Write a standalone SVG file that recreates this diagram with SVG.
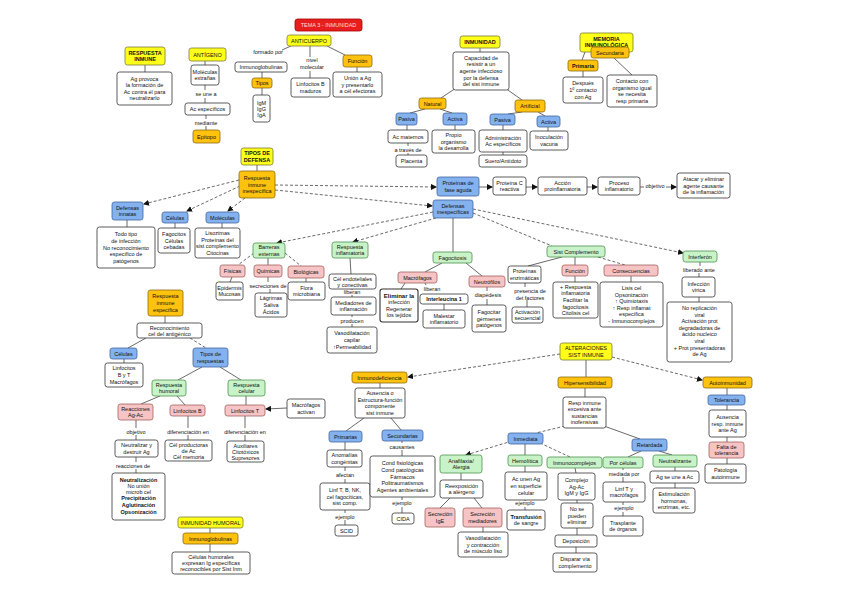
<svg xmlns="http://www.w3.org/2000/svg" width="848" height="599" viewBox="0 0 848 599">
<style>
text{font-family:"Liberation Sans",Arial,sans-serif;font-size:5.5px;text-anchor:middle;fill:#111}
rect{rx:2.5;ry:2.5;stroke-width:0.8}
.w{fill:#fff;stroke:#333}
.y{fill:#ffff1a;stroke:#7a7a3a}
.o{fill:#ffc20e;stroke:#8a6a10}
.b{fill:#84b2ef;stroke:#41669e}
.g{fill:#c8f3c8;stroke:#4f8f4f}
.p{fill:#f6c4c4;stroke:#a35f5f}
.r{fill:#e61e1e;stroke:#a00}
.bd{font-weight:bold}
.tr{fill:#ffdada}
.c{stroke:#444;stroke-width:0.8;fill:none}
.d{stroke-dasharray:3 2}
.a{marker-end:url(#ah)}
</style>
<defs>
<marker id="ah" markerWidth="6" markerHeight="6" refX="5" refY="3" orient="auto" markerUnits="userSpaceOnUse">
<path d="M0,0 L6,3 L0,6 z" fill="#111"/>
</marker>
</defs>
<rect x="0" y="0" width="848" height="599" fill="#fff" style="stroke:none"/>

<g id="connectors">
<!-- top -->
<path class="c" d="M291 46 L282 50"/>
<path class="c" d="M262 72 L262 78"/>
<path class="c" d="M262 88 L262 95"/>
<path class="c" d="M310 46 L310 57"/>
<path class="c" d="M310 71 L310 78"/>
<path class="c" d="M327 46 L345 55"/>
<path class="c" d="M357 67 L357 72"/>
<path class="c" d="M145 65 L145 72"/>
<path class="c" d="M205 61 L205 65"/>
<path class="c" d="M205 85 L205 90"/>
<path class="c" d="M205 98 L205 103"/>
<path class="c" d="M206 115 L206 119"/>
<path class="c" d="M206 126 L206 130"/>
<path class="c" d="M480 48 L480 52"/>
<path class="c" d="M456 88 L441 98"/>
<path class="c" d="M505 88 L522 100"/>
<path class="c" d="M425 109 L410 113"/>
<path class="c" d="M440 109 L452 113"/>
<path class="c" d="M407 125 L407 130"/>
<path class="c" d="M408 143 L408 146"/>
<path class="c" d="M408 153 L408 155"/>
<path class="c" d="M455 125 L455 130"/>
<path class="c" d="M522 112 L508 114"/>
<path class="c" d="M538 112 L545 116"/>
<path class="c" d="M503 125 L503 130"/>
<path class="c" d="M503 152 L503 155"/>
<path class="c" d="M548 127 L548 131"/>
<path class="c" d="M585 52 L582 60"/>
<path class="c" d="M583 71 L583 77"/>
<path class="c" d="M614 58 L632 75"/>
<!-- defensa -->
<path class="c" d="M257 165 L257 171"/>
<path class="c d a" d="M239 180 L144 204"/>
<path class="c d a" d="M240 186 L187 211"/>
<path class="c d a" d="M245 198 L228 211"/>
<path class="c d a" d="M275 185 L436 187"/>
<path class="c d a" d="M275 190 L432 206"/>
<path class="c a" d="M479 187 L492 187"/>
<path class="c a" d="M526 187 L537 187"/>
<path class="c a" d="M587 187 L597 187"/>
<path class="c" d="M640 187 L644 187"/>
<path class="c a" d="M666 187 L676 187"/>
<path class="c" d="M127 220 L127 227"/>
<path class="c" d="M175 223 L175 228"/>
<path class="c" d="M222 223 L222 228"/>
<path class="c d a" d="M433 212 L277 243"/>
<path class="c d a" d="M436 218 L353 242"/>
<path class="c" d="M453 218 L453 252"/>
<path class="c d" d="M473 213 L552 246"/>
<path class="c d a" d="M473 209 L683 253"/>
<path class="c" d="M442 263 L425 272"/>
<path class="c" d="M466 263 L482 276"/>
<path class="c" d="M405 283 L401 289"/>
<path class="c" d="M425 283 L426 285"/>
<path class="c" d="M444 304 L444 310"/>
<path class="c" d="M487 287 L487 291"/>
<path class="c" d="M487 299 L487 305"/>
<path class="c" d="M562 257 L528 266"/>
<path class="c" d="M575 257 L575 265"/>
<path class="c d" d="M598 257 L625 265"/>
<path class="c" d="M525 283 L525 287"/>
<path class="c" d="M527 300 L527 307"/>
<path class="c" d="M575 276 L575 282"/>
<path class="c" d="M631 276 L631 282"/>
<path class="c" d="M700 262 L700 266"/>
<path class="c" d="M699 273 L699 277"/>
<path class="c" d="M699 297 L699 302"/>
<path class="c d" d="M254 253 L238 265"/>
<path class="c" d="M268 258 L268 265"/>
<path class="c d" d="M285 253 L301 266"/>
<path class="c" d="M232 277 L230 282"/>
<path class="c" d="M268 277 L268 282"/>
<path class="c" d="M270 289 L270 293"/>
<path class="c" d="M306 278 L306 282"/>
<path class="c" d="M350 258 L351 274"/>
<path class="c" d="M352 289 L352 290"/>
<path class="c" d="M352 295 L352 297"/>
<path class="c" d="M352 315 L352 317"/>
<path class="c" d="M352 324 L352 327"/>
<!-- especifica -->
<path class="c" d="M165 316 L165 323"/>
<path class="c" d="M146 338 L128 348"/>
<path class="c d" d="M190 338 L206 348"/>
<path class="c" d="M124 359 L124 363"/>
<path class="c" d="M202 367 L178 380"/>
<path class="c" d="M220 367 L241 380"/>
<path class="c" d="M160 396 L141 404"/>
<path class="c" d="M177 396 L185 405"/>
<path class="c" d="M246 396 L246 405"/>
<path class="c a" d="M287 408 L266 409"/>
<path class="c" d="M136 420 L136 428"/>
<path class="c" d="M136 435 L136 440"/>
<path class="c" d="M136 457 L136 462"/>
<path class="c" d="M136 469 L136 473"/>
<path class="c" d="M188 416 L188 428"/>
<path class="c" d="M188 435 L188 440"/>
<path class="c" d="M245 416 L245 428"/>
<path class="c" d="M245 435 L245 441"/>
<path class="c" d="M210 528 L210 533"/>
<path class="c" d="M210 544 L210 552"/>
<!-- alteraciones -->
<path class="c d a" d="M560 354 L408 377"/>
<path class="c" d="M586 360 L586 377"/>
<path class="c d a" d="M612 357 L702 380"/>
<path class="c" d="M380 383 L380 388"/>
<path class="c" d="M364 418 L346 431"/>
<path class="c" d="M391 418 L401 430"/>
<path class="c" d="M345 442 L345 450"/>
<path class="c" d="M345 467 L345 471"/>
<path class="c" d="M345 479 L345 483"/>
<path class="c" d="M345 510 L345 513"/>
<path class="c" d="M345 520 L345 525"/>
<path class="c" d="M402 441 L402 443"/>
<path class="c" d="M402 450 L402 456"/>
<path class="c" d="M402 497 L402 500"/>
<path class="c" d="M402 507 L402 513"/>
<path class="c" d="M585 388 L585 397"/>
<path class="c d" d="M565 426 L536 433"/>
<path class="c" d="M604 426 L640 439"/>
<path class="c d a" d="M512 441 L466 455"/>
<path class="c" d="M525 444 L525 455"/>
<path class="c d" d="M540 443 L570 457"/>
<path class="c" d="M641 451 L628 457"/>
<path class="c" d="M659 451 L672 455"/>
<path class="c" d="M461 473 L461 480"/>
<path class="c" d="M450 498 L440 508"/>
<path class="c" d="M474 498 L482 508"/>
<path class="c" d="M483 527 L483 532"/>
<path class="c" d="M525 466 L525 472"/>
<path class="c" d="M525 500 L525 501"/>
<path class="c" d="M525 507 L525 510"/>
<path class="c" d="M575 468 L576 473"/>
<path class="c" d="M577 500 L577 503"/>
<path class="c" d="M577 528 L577 535"/>
<path class="c" d="M576 547 L576 553"/>
<path class="c" d="M623 468 L623 470"/>
<path class="c" d="M623 477 L623 482"/>
<path class="c" d="M623 502 L623 505"/>
<path class="c" d="M623 512 L623 516"/>
<path class="c" d="M675 467 L675 471"/>
<path class="c" d="M675 483 L675 488"/>
<path class="c" d="M727 388 L727 395"/>
<path class="c" d="M727 405 L727 410"/>
<path class="c" d="M727 437 L727 442"/>
<path class="c" d="M727 458 L727 464"/>
</g>

<g id="labels">
<text x="268" y="54">formado por</text>
<text x="312" y="62">nivel</text>
<text x="312" y="68.5">molecular</text>
<text x="206" y="96">se une a</text>
<text x="206" y="124.5">mediante</text>
<text x="408" y="151.5">a través de</text>
<text x="655" y="188">objetivo</text>
<text x="268" y="287.5">secreciones de</text>
<text x="352" y="294">liberan</text>
<text x="352" y="322.5">producen</text>
<text x="432" y="290.5">liberan</text>
<text x="488" y="297">diapédesis</text>
<text x="530" y="292.5">presencia de</text>
<text x="530" y="299.5">det factores</text>
<text x="699" y="271.5">liberado ante</text>
<text x="136" y="433.5">objetivo</text>
<text x="133" y="468">reacciones de</text>
<text x="188" y="433.5">diferenciación en</text>
<text x="245" y="433.5">diferenciación en</text>
<text x="345" y="477">afectan</text>
<text x="345" y="518.5">ejemplo</text>
<text x="402" y="448.5">causantes</text>
<text x="402" y="505">ejemplo</text>
<text x="525" y="505">ejemplo</text>
<text x="624" y="475.5">mediada por</text>
<text x="624" y="510">ejemplo</text>
</g>

<g id="n-tema"><rect class="r" x="295" y="19" width="67" height="12"/><text class="tr" x="328.5" y="27">TEMA 3 - INMUNIDAD</text></g>
<g id="n-anticuerpo"><rect class="y" x="287" y="35" width="44" height="11"/><text x="309" y="42.5">ANTICUERPO</text></g>
<g id="n-inmunoglobulinas"><rect class="w" x="235" y="62" width="52" height="10"/><text x="261" y="69">Inmunoglobulinas</text></g>
<g id="n-tipos"><rect class="o" x="252" y="78" width="20" height="10"/><text x="262" y="85">Tipos</text></g>
<g id="n-igm"><rect class="w" x="253" y="95" width="17" height="27"/><text x="261.5" y="104.5">IgM</text><text x="261.5" y="110.5">IgG</text><text x="261.5" y="116.5">IgA</text></g>
<g id="n-linfb-maduros"><rect class="w" x="291" y="78" width="39" height="19"/><text x="310.5" y="86.2">Linfocitos B</text><text x="310.5" y="92.8">maduros</text></g>
<g id="n-funcion"><rect class="o" x="343" y="55" width="29" height="12"/><text x="357.5" y="63">Función</text></g>
<g id="n-union"><rect class="w" x="333" y="72" width="49" height="25"/><text x="357.5" y="79.9">Unión a Ag</text><text x="357.5" y="86.5">y presentarlo</text><text x="357.5" y="93.1">a cél efectoras</text></g>
<g id="n-resp-inmune"><rect class="y" x="125" y="47" width="40" height="18"/><text class="bd" x="145" y="54.7">RESPUESTA</text><text class="bd" x="145" y="61.3">INMUNE</text></g>
<g id="n-ag-provoca"><rect class="w" x="117" y="72" width="55" height="33"/><text x="144.5" y="80.6">Ag provoca</text><text x="144.5" y="87.2">la formación de</text><text x="144.5" y="93.8">Ac contra él para</text><text x="144.5" y="100.4">neutralizarlo</text></g>
<g id="n-antigeno"><rect class="y" x="189" y="48" width="37" height="13"/><text x="207.5" y="56.5">ANTÍGENO</text></g>
<g id="n-moleculas-ext"><rect class="w" x="191" y="65" width="28" height="20"/><text x="205" y="73.7">Moléculas</text><text x="205" y="80.3">extrañas</text></g>
<g id="n-ac-esp"><rect class="w" x="185" y="103" width="45" height="12"/><text x="207.5" y="111">Ac específicos</text></g>
<g id="n-epitopo"><rect class="o" x="193" y="130" width="27" height="13"/><text x="206.5" y="138.5">Epítopo</text></g>
<g id="n-inmunidad"><rect class="y" x="460" y="36" width="40" height="12"/><text class="bd" x="480" y="44">INMUNIDAD</text></g>
<g id="n-capacidad"><rect class="w" x="453" y="52" width="56" height="38"/><text x="481" y="59.8">Capacidad de</text><text x="481" y="66.4">resistir a un</text><text x="481" y="73">agente infeccioso</text><text x="481" y="79.6">por la defensa</text><text x="481" y="86.2">del sist inmune</text></g>
<g id="n-natural"><rect class="o" x="419" y="98" width="27" height="11"/><text x="432.5" y="105.5">Natural</text></g>
<g id="n-artificial"><rect class="o" x="515" y="100" width="30" height="12"/><text x="530" y="108">Artificial</text></g>
<g id="n-pasiva-n"><rect class="b" x="396" y="113" width="21" height="12"/><text x="406.5" y="121">Pasiva</text></g>
<g id="n-activa-n"><rect class="b" x="443" y="113" width="24" height="12"/><text x="455" y="121">Activa</text></g>
<g id="n-ac-maternos"><rect class="w" x="388" y="130" width="40" height="13"/><text x="408" y="138.5">Ac maternos</text></g>
<g id="n-placenta"><rect class="w" x="396" y="155" width="31" height="12"/><text x="411.5" y="163">Placenta</text></g>
<g id="n-propio"><rect class="w" x="432" y="130" width="43" height="23"/><text x="453.5" y="136.9">Propio</text><text x="453.5" y="143.5">organismo</text><text x="453.5" y="150.1">la desarrolla</text></g>
<g id="n-pasiva-a"><rect class="b" x="490" y="114" width="25" height="11"/><text x="502.5" y="121.5">Pasiva</text></g>
<g id="n-activa-a"><rect class="b" x="537" y="116" width="23" height="11"/><text x="548.5" y="123.5">Activa</text></g>
<g id="n-administracion"><rect class="w" x="479" y="130" width="48" height="22"/><text x="503" y="139.7">Administración</text><text x="503" y="146.3">Ac específicos</text></g>
<g id="n-inoculacion"><rect class="w" x="530" y="131" width="38" height="19"/><text x="549" y="139.2">Inoculación</text><text x="549" y="145.8">vacuna</text></g>
<g id="n-suero"><rect class="w" x="479" y="155" width="48" height="12"/><text x="503" y="163">Suero/Antídoto</text></g>
<g id="n-memoria"><rect class="y" x="580" y="33" width="53" height="19"/><text class="bd" x="606.5" y="40.5">MEMORIA</text><text class="bd" x="606.5" y="46.5">INMUNOLÓGICA</text></g>
<g id="n-secundaria"><rect class="o" x="591" y="47" width="38" height="11"/><text x="610" y="54.5">Secundaria</text></g>
<g id="n-primaria"><rect class="o" x="568" y="60" width="30" height="11"/><text class="bd" x="583" y="67.5">Primaria</text></g>
<g id="n-despues"><rect class="w" x="563" y="77" width="40" height="26"/><text x="583" y="85.4">Después</text><text x="583" y="92">1º contacto</text><text x="583" y="98.6">con Ag</text></g>
<g id="n-contacto"><rect class="w" x="607" y="75" width="50" height="32"/><text x="632" y="83.1">Contacto con</text><text x="632" y="89.7">organismo igual</text><text x="632" y="96.3">se necesita</text><text x="632" y="102.9">resp primaria</text></g>

<g id="n-tipos-defensa"><rect class="y" x="241" y="148" width="32" height="17"/><text class="bd" x="257" y="155.2">TIPOS DE</text><text class="bd" x="257" y="161.8">DEFENSA</text></g>
<g id="n-resp-inesp"><rect class="o" x="239" y="171" width="36" height="27"/><text x="257" y="179.9">Respuesta</text><text x="257" y="186.5">inmune</text><text x="257" y="193.1">inespecífica</text></g>
<g id="n-prot-fase"><rect class="b" x="437" y="177" width="42" height="19"/><text x="458" y="185.2">Proteínas de</text><text x="458" y="191.8">fase aguda</text></g>
<g id="n-prot-c"><rect class="w" x="493" y="177" width="33" height="18"/><text x="509.5" y="184.7">Proteína C</text><text x="509.5" y="191.3">reactiva</text></g>
<g id="n-accion"><rect class="w" x="538" y="177" width="49" height="18"/><text x="562.5" y="184.7">Acción</text><text x="562.5" y="191.3">proinflamatoria</text></g>
<g id="n-proceso"><rect class="w" x="598" y="177" width="42" height="18"/><text x="619" y="184.7">Proceso</text><text x="619" y="191.3">inflamatorio</text></g>
<g id="n-atacar"><rect class="w" x="677" y="173" width="53" height="25"/><text x="703.5" y="180.9">Atacar y eliminar</text><text x="703.5" y="187.5">agente causante</text><text x="703.5" y="194.1">de la inflamación</text></g>

<g id="n-def-innatas"><rect class="b" x="112" y="202" width="31" height="18"/><text x="127.5" y="209.7">Defensas</text><text x="127.5" y="216.3">innatas</text></g>
<g id="n-celulas1"><rect class="b" x="162" y="212" width="26" height="11"/><text x="175" y="219.5">Células</text></g>
<g id="n-moleculas"><rect class="b" x="206" y="212" width="33" height="11"/><text x="222.5" y="219.5">Moléculas</text></g>
<g id="n-todo-tipo"><rect class="w" x="97" y="227" width="58" height="41"/><text x="126" y="236.3">Todo tipo</text><text x="126" y="242.9">de infección</text><text x="126" y="249.5">No reconocimiento</text><text x="126" y="256.1">específico de</text><text x="126" y="262.7">patógenos</text></g>
<g id="n-fagocitos"><rect class="w" x="158" y="228" width="32" height="25"/><text x="174" y="235.9">Fagocitos</text><text x="174" y="242.5">Células</text><text x="174" y="249.1">cebadas</text></g>
<g id="n-lisozimas"><rect class="w" x="195" y="228" width="45" height="30"/><text x="217.5" y="235.1">Lisozimas</text><text x="217.5" y="241.7">Proteínas del</text><text x="217.5" y="248.3">sist complemento</text><text x="217.5" y="254.9">Citocinas</text></g>

<g id="n-def-inesp"><rect class="b" x="433" y="200" width="40" height="18"/><text x="453" y="207.7">Defensas</text><text x="453" y="214.3">inespecíficas</text></g>
<g id="n-barreras"><rect class="g" x="253" y="243" width="32" height="15"/><text x="269" y="249.2">Barreras</text><text x="269" y="255.8">externas</text></g>
<g id="n-fisicas"><rect class="p" x="220" y="265" width="25" height="12"/><text x="232.5" y="273">Físicas</text></g>
<g id="n-quimicas"><rect class="p" x="254" y="265" width="28" height="12"/><text x="268" y="273">Químicas</text></g>
<g id="n-biologicas"><rect class="p" x="288" y="266" width="36" height="12"/><text x="306" y="274">Biológicas</text></g>
<g id="n-epidermis"><rect class="w" x="216" y="282" width="27" height="18"/><text x="229.5" y="289.7">Epidermis</text><text x="229.5" y="296.3">Mucosas</text></g>
<g id="n-lagrimas"><rect class="w" x="255" y="293" width="32" height="24"/><text x="271" y="300.4">Lágrimas</text><text x="271" y="307">Saliva</text><text x="271" y="313.6">Ácidos</text></g>
<g id="n-flora"><rect class="w" x="288" y="282" width="37" height="18"/><text x="306.5" y="289.7">Flora</text><text x="306.5" y="296.3">microbiana</text></g>
<g id="n-resp-infl"><rect class="g" x="332" y="242" width="36" height="16"/><text x="350" y="248.7">Respuesta</text><text x="350" y="255.3">inflamatoria</text></g>
<g id="n-cel-endo"><rect class="w" x="329" y="274" width="47" height="15"/><text x="352.5" y="280.5">Cél endoteliales</text><text x="352.5" y="286.5">y conectivas</text></g>
<g id="n-mediadores"><rect class="w" x="331" y="297" width="45" height="18"/><text x="353.5" y="304.7">Mediadores de</text><text x="353.5" y="311.3">inflamación</text></g>
<g id="n-vasodil"><rect class="w" x="327" y="327" width="50" height="26"/><text x="352" y="335.4">Vasodilatación</text><text x="352" y="342">capilar</text><text x="352" y="348.6">↑Permeabilidad</text></g>
<g id="n-fagocitosis"><rect class="g" x="433" y="252" width="39" height="11"/><text x="452.5" y="259.5">Fagocitosis</text></g>
<g id="n-macrofagos"><rect class="p" x="398" y="272" width="39" height="11"/><text x="417.5" y="279.5">Macrófagos</text></g>
<g id="n-eliminar"><rect class="w" x="380" y="289" width="38" height="33" style="stroke-width:1.1"/><text class="bd" x="399" y="297.6" style="font-size:6px">Eliminar la</text><text x="399" y="304.2">infección</text><text x="399" y="310.8">Regenerar</text><text x="399" y="317.4">los tejidos</text></g>
<g id="n-interleucina"><rect class="w" x="420" y="294" width="48" height="10"/><text class="bd" x="444" y="301">Interleucina 1</text></g>
<g id="n-malestar"><rect class="w" x="423" y="310" width="42" height="18"/><text x="444" y="317.7">Malestar</text><text x="444" y="324.3">inflamatorio</text></g>
<g id="n-neutrofilos"><rect class="p" x="469" y="276" width="36" height="11"/><text x="487" y="283.5">Neutrófilos</text></g>
<g id="n-fagocitar"><rect class="w" x="472" y="305" width="34" height="27"/><text x="489" y="313.9">Fagocitar</text><text x="489" y="320.5">gérmenes</text><text x="489" y="327.1">patógenos</text></g>
<g id="n-sist-comp"><rect class="g" x="547" y="246" width="58" height="11"/><text x="576" y="253.5">Sist Complemento</text></g>
<g id="n-prot-enz"><rect class="w" x="508" y="266" width="33" height="17"/><text x="524.5" y="273.2">Proteínas</text><text x="524.5" y="279.8">enzimáticas</text></g>
<g id="n-activacion"><rect class="w" x="512" y="307" width="31" height="16"/><text x="527.5" y="313.7">Activación</text><text x="527.5" y="320.3">secuencial</text></g>
<g id="n-funcion2"><rect class="p" x="562" y="265" width="26" height="11"/><text x="575" y="272.5">Función</text></g>
<g id="n-resp-funcion"><rect class="w" x="553" y="282" width="45" height="36"/><text x="575.5" y="288.8">+ Respuesta</text><text x="575.5" y="295.4">inflamatoria</text><text x="575.5" y="302">Facilitar la</text><text x="575.5" y="308.6">fagocitosis</text><text x="575.5" y="315.2">Citolisis cel</text></g>
<g id="n-consecuencias"><rect class="p" x="604" y="265" width="54" height="11"/><text x="631" y="272.5">Consecuencias</text></g>
<g id="n-lisis"><rect class="w" x="600" y="282" width="63" height="45"/><text x="631.5" y="290">Lisis cel</text><text x="631.5" y="296.6">Opsonización</text><text x="631.5" y="303.2">↑ Quimiotaxis</text><text x="631.5" y="309.8">↑ Resp inflamat</text><text x="631.5" y="316.4">específica</text><text x="631.5" y="323">- Inmunocomplejos</text></g>
<g id="n-interferon"><rect class="g" x="683" y="251" width="34" height="11"/><text x="700" y="258.5">Interferón</text></g>
<g id="n-infeccion"><rect class="w" x="682" y="277" width="33" height="20"/><text x="698.5" y="285.7">Infección</text><text x="698.5" y="292.3">vírica</text></g>
<g id="n-no-replic"><rect class="w" x="667" y="302" width="65" height="60"/><text x="699.5" y="310">No replicación</text><text x="699.5" y="316.6">viral</text><text x="699.5" y="323.2">Activación prot</text><text x="699.5" y="329.8">degradadoras de</text><text x="699.5" y="336.4">ácido nucleico</text><text x="699.5" y="343">viral</text><text x="699.5" y="349.6">+ Prot presentadoras</text><text x="699.5" y="356.2">de Ag</text></g>

<g id="n-resp-esp"><rect class="o" x="148" y="290" width="35" height="26"/><text x="165.5" y="298.4">Respuesta</text><text x="165.5" y="305">inmune</text><text x="165.5" y="311.6">específica</text></g>
<g id="n-reconocimiento"><rect class="w" x="137" y="323" width="65" height="15"/><text x="169.5" y="329.5">Reconocimiento</text><text x="169.5" y="335.8">cel del antigénico</text></g>
<g id="n-celulas2"><rect class="b" x="110" y="348" width="27" height="11"/><text x="123.5" y="355.5">Células</text></g>
<g id="n-linfocitos-bt"><rect class="w" x="105" y="363" width="38" height="24"/><text x="124" y="370.4">Linfocitos</text><text x="124" y="377">B y T</text><text x="124" y="383.6">Macrófagos</text></g>
<g id="n-tipos-resp"><rect class="b" x="193" y="348" width="35" height="19"/><text x="210.5" y="356.2">Tipos de</text><text x="210.5" y="362.8">respuestas</text></g>
<g id="n-resp-humoral"><rect class="g" x="152" y="380" width="34" height="16"/><text x="169" y="386.7">Respuesta</text><text x="169" y="393.3">humoral</text></g>
<g id="n-resp-celular"><rect class="g" x="228" y="380" width="37" height="16"/><text x="246.5" y="386.7">Respuesta</text><text x="246.5" y="393.3">celular</text></g>
<g id="n-reacciones"><rect class="p" x="118" y="404" width="35" height="16"/><text x="135.5" y="410.7">Reacciones</text><text x="135.5" y="417.3">Ag-Ac</text></g>
<g id="n-linf-b"><rect class="p" x="170" y="405" width="35" height="11"/><text x="187.5" y="412.5">Linfocitos B</text></g>
<g id="n-linf-t"><rect class="p" x="225" y="405" width="40" height="11"/><text x="245" y="412.5">Linfocitos T</text></g>
<g id="n-macro-activan"><rect class="w" x="287" y="399" width="38" height="19"/><text x="306" y="407.2">Macrófagos</text><text x="306" y="413.8">activan</text></g>
<g id="n-neutralizar"><rect class="w" x="115" y="440" width="43" height="17"/><text x="136.5" y="447.2">Neutralizar y</text><text x="136.5" y="453.8">destruir Ag</text></g>
<g id="n-neutralizacion"><rect class="w" x="112" y="473" width="53" height="47"/><text class="bd" x="138.5" y="482">Neutralización</text><text x="138.5" y="487.8">No unión</text><text x="138.5" y="493.8">microb cel</text><text class="bd" x="138.5" y="500.4">Precipitación</text><text class="bd" x="138.5" y="507">Aglutinación</text><text class="bd" x="138.5" y="513.6">Opsonización</text></g>
<g id="n-cel-prod"><rect class="w" x="165" y="440" width="47" height="21"/><text x="188.5" y="446.5">Cél productoras</text><text x="188.5" y="452.5">de Ac</text><text x="188.5" y="458.5">Cél memoria</text></g>
<g id="n-auxiliares"><rect class="w" x="227" y="441" width="37" height="21"/><text x="245.5" y="447.5">Auxiliares</text><text x="245.5" y="453.5">Citotóxicos</text><text x="245.5" y="459.5">Supresores</text></g>
<g id="n-inm-humoral"><rect class="y" x="178" y="517" width="65" height="11"/><text x="210.5" y="524.5">INMUNIDAD HUMORAL</text></g>
<g id="n-inmunoglob2"><rect class="o" x="183" y="533" width="55" height="11"/><text x="210.5" y="540.5">Inmunoglobulinas</text></g>
<g id="n-cel-humorales"><rect class="w" x="172" y="552" width="78" height="22"/><text x="211" y="559">Células humorales</text><text x="211" y="565">expresan Ig específicas</text><text x="211" y="571">reconocibles por Sist Inm</text></g>

<g id="n-alteraciones"><rect class="y" x="560" y="343" width="52" height="17"/><text x="586" y="350.2">ALTERACIONES</text><text x="586" y="356.8">SIST INMUNE</text></g>
<g id="n-hipersens"><rect class="o" x="558" y="377" width="54" height="11"/><text x="585" y="384.5">Hipersensibilidad</text></g>
<g id="n-inmunodef"><rect class="o" x="352" y="372" width="55" height="11"/><text x="379.5" y="379.5">Inmunodeficiencia</text></g>
<g id="n-autoinm"><rect class="o" x="703" y="377" width="49" height="11"/><text x="727.5" y="384.5">Autoinmunidad</text></g>
<g id="n-ausencia-ef"><rect class="w" x="355" y="388" width="50" height="30"/><text x="380" y="395.1">Ausencia o</text><text x="380" y="401.7">Estructura-función</text><text x="380" y="408.3">componente</text><text x="380" y="414.9">sist inmune</text></g>
<g id="n-primarias"><rect class="b" x="329" y="431" width="33" height="11"/><text x="345.5" y="438.5">Primarias</text></g>
<g id="n-secundarias"><rect class="b" x="382" y="430" width="41" height="11"/><text x="402.5" y="437.5">Secundarias</text></g>
<g id="n-anomalias"><rect class="w" x="327" y="450" width="35" height="17"/><text x="344.5" y="457.2">Anomalías</text><text x="344.5" y="463.8">congénitas</text></g>
<g id="n-linf-tbnk"><rect class="w" x="320" y="483" width="50" height="27"/><text x="345" y="491.9">Linf T, B, NK,</text><text x="345" y="498.5">cel fagocíticas,</text><text x="345" y="505.1">sist comp.</text></g>
<g id="n-scid"><rect class="w" x="335" y="525" width="23" height="11"/><text x="346.5" y="532.5">SCID</text></g>
<g id="n-cond"><rect class="w" x="370" y="456" width="65" height="41"/><text x="402.5" y="465.3">Cond fisiológicas</text><text x="402.5" y="471.9">Cond patológicas</text><text x="402.5" y="478.5">Fármacos</text><text x="402.5" y="485.1">Politraumatismos</text><text x="402.5" y="491.7">Agentes ambientales</text></g>
<g id="n-cida"><rect class="w" x="392" y="513" width="22" height="11"/><text x="403" y="520.5">CIDA</text></g>
<g id="n-resp-excesiva"><rect class="w" x="563" y="397" width="43" height="31"/><text x="584.5" y="404.6">Resp inmune</text><text x="584.5" y="411.2">excesiva ante</text><text x="584.5" y="417.8">sustancias</text><text x="584.5" y="424.4">inofensivas</text></g>
<g id="n-inmediata"><rect class="b" x="508" y="433" width="35" height="11"/><text x="525.5" y="440.5">Inmediata</text></g>
<g id="n-retardada"><rect class="b" x="632" y="439" width="35" height="12"/><text x="649.5" y="447">Retardada</text></g>
<g id="n-anafilaxia"><rect class="g" x="440" y="455" width="42" height="18"/><text x="461" y="462.7">Anafilaxia/</text><text x="461" y="469.3">Alergia</text></g>
<g id="n-hemolitica"><rect class="g" x="508" y="455" width="34" height="11"/><text x="525" y="462.5">Hemolítica</text></g>
<g id="n-inmunocomp"><rect class="g" x="547" y="457" width="55" height="11"/><text x="574.5" y="464.5">Inmunocomplejos</text></g>
<g id="n-por-celulas"><rect class="g" x="603" y="457" width="40" height="11"/><text x="623" y="464.5">Por células</text></g>
<g id="n-neutralizante"><rect class="g" x="653" y="455" width="44" height="12"/><text x="675" y="463">Neutralizante</text></g>
<g id="n-reexposicion"><rect class="w" x="440" y="480" width="43" height="18"/><text x="461.5" y="487.7">Reexposición</text><text x="461.5" y="494.3">a alérgeno</text></g>
<g id="n-secrecion-ige"><rect class="p" x="425" y="508" width="30" height="19"/><text x="440" y="516.2">Secreción</text><text x="440" y="522.8">IgE</text></g>
<g id="n-secrecion-med"><rect class="p" x="463" y="508" width="39" height="19"/><text x="482.5" y="516.2">Secreción</text><text x="482.5" y="522.8">mediadores</text></g>
<g id="n-vasodil2"><rect class="w" x="458" y="532" width="50" height="25"/><text x="483" y="539.9">Vasodilatación</text><text x="483" y="546.5">y contracción</text><text x="483" y="553.1">de músculo liso</text></g>
<g id="n-ac-unen"><rect class="w" x="505" y="472" width="42" height="28"/><text x="526" y="481.4">Ac unen Ag</text><text x="526" y="488">en superficie</text><text x="526" y="494.6">celular</text></g>
<g id="n-transfusion"><rect class="w" x="507" y="510" width="38" height="20"/><text class="bd" x="526" y="518.7">Transfusión</text><text x="526" y="525.3">de sangre</text></g>
<g id="n-complejo"><rect class="w" x="558" y="473" width="37" height="27"/><text x="576.5" y="481.9">Complejo</text><text x="576.5" y="488.5">Ag-Ac</text><text x="576.5" y="495.1">IgM y IgG</text></g>
<g id="n-no-se"><rect class="w" x="561" y="503" width="32" height="25"/><text x="577" y="510.9">No se</text><text x="577" y="517.5">pueden</text><text x="577" y="524.1">eliminar</text></g>
<g id="n-deposicion"><rect class="w" x="555" y="535" width="42" height="12"/><text x="576" y="543">Deposición</text></g>
<g id="n-disparar"><rect class="w" x="553" y="553" width="44" height="19"/><text x="575" y="561.2">Disparar vía</text><text x="575" y="567.8">complemento</text></g>
<g id="n-linf-t-macro"><rect class="w" x="603" y="482" width="42" height="20"/><text x="624" y="490.7">Linf T y</text><text x="624" y="497.3">macrófagos</text></g>
<g id="n-trasplante"><rect class="w" x="603" y="516" width="40" height="20"/><text x="623" y="524.7">Trasplante</text><text x="623" y="531.3">de órganos</text></g>
<g id="n-ag-se-une"><rect class="w" x="650" y="471" width="49" height="12"/><text x="674.5" y="479">Ag se une a Ac</text></g>
<g id="n-estimulacion"><rect class="w" x="653" y="488" width="42" height="25"/><text x="674" y="495.9">Estimulación</text><text x="674" y="502.5">hormonas,</text><text x="674" y="509.1">enzimas, etc.</text></g>
<g id="n-tolerancia"><rect class="b" x="708" y="395" width="37" height="10"/><text x="726.5" y="402">Tolerancia</text></g>
<g id="n-ausencia-resp"><rect class="w" x="709" y="410" width="37" height="27"/><text x="727.5" y="418.9">Ausencia</text><text x="727.5" y="425.5">resp. inmune</text><text x="727.5" y="432.1">ante Ag</text></g>
<g id="n-falta"><rect class="p" x="709" y="442" width="35" height="16"/><text x="726.5" y="448.7">Falta de</text><text x="726.5" y="455.3">tolerancia</text></g>
<g id="n-patologia"><rect class="w" x="705" y="464" width="41" height="19"/><text x="725.5" y="472.2">Patología</text><text x="725.5" y="478.8">autoinmune</text></g>
</svg>
